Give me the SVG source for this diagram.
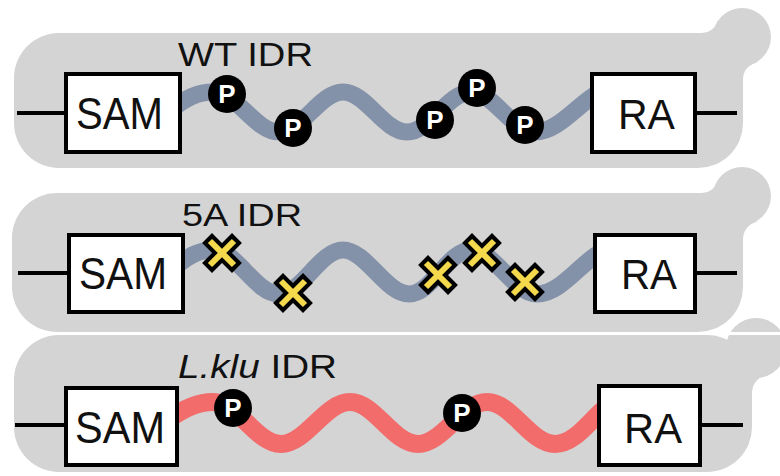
<svg xmlns="http://www.w3.org/2000/svg" width="780" height="476" viewBox="0 0 780 476">
<defs>
<style>
.bg{fill:#d4d4d4}
.box{fill:#ffffff;stroke:#000;stroke-width:4}
.ln{stroke:#000;stroke-width:4;fill:none}
.wv{fill:none;stroke:#8391a9;stroke-width:17;stroke-linecap:butt}
.wr{fill:none;stroke:#f26c6c;stroke-width:18;stroke-linecap:butt}
.lbl{font-family:"Liberation Sans",Arial,sans-serif;fill:#111}
.pc{fill:#000}
.pt{font-family:"Liberation Sans",Arial,sans-serif;font-weight:bold;font-size:26px;fill:#fff;text-anchor:middle}
.xo{stroke:#000;stroke-width:14;stroke-linecap:square;fill:none}
.xi{stroke:#f5d94c;stroke-width:6;stroke-linecap:butt;fill:none}
</style>
<g id="pmark"><circle class="pc" r="19"/><text class="pt" y="9">P</text></g>
<g id="xmark"><path class="xo" d="M-10,-10L10,10M10,-10L-10,10"/><path class="xi" d="M-12,-12L12,12M12,-12L-12,12"/></g>
</defs>
<rect width="780" height="476" fill="#fff"/>
<g id="panels">
<g id="panel1"><rect class="bg" x="14" y="33" width="729" height="135" rx="45"/><circle class="bg" cx="742" cy="37" r="29"/><path class="bg" d="M700,33 Q714,33 718,20 L730,50 L700,50Z"/><path class="bg" d="M743,80 Q743,66 758,62 L730,55Z"/></g>
<g id="panel2"><rect class="bg" x="12" y="193" width="731" height="139" rx="45"/><circle class="bg" cx="742" cy="196" r="29"/><path class="bg" d="M700,193 Q714,193 718,180 L730,210 L700,210Z"/><path class="bg" d="M743,240 Q743,226 758,221 L730,215Z"/></g>
<g id="panel3"><rect class="bg" x="14" y="335" width="738" height="137" rx="45"/><circle class="bg" cx="756" cy="348" r="30"/><path class="bg" d="M752,392 Q752,380 770,372 L740,360Z"/></g>
<rect x="0" y="332" width="780" height="3" fill="#fff"/>
</g>
<g id="connectors">
<path class="ln" d="M17,113H66M694,113H737"/>
<path class="ln" d="M18,273H69M694,273H737"/>
<path class="ln" d="M15,425H66M699,425H743"/>
<path class="wv" d="M172,109 C186,98 198,92 213,92 C237,92 255,132 279,132 C302,132 320,92 343,92 C366,92 384,132 407,132 C430,132 448,92 471,92 C494,92 512,132 535,132 C558,132 578,104 598,93"/>
<path class="wv" d="M172,270 C186,257 198,250 213,250 C237,250 255,294 279,294 C302,294 320,250 343,250 C366,250 386,294 409,294 C432,294 448,250 471,250 C494,250 514,294 537,294 C560,294 580,264 598,254"/>
<path class="wr" d="M168,420 C184,408 198,402 213,402 C238,402 256,444 281,444 C306,444 325,402 350,402 C375,402 393,444 418,444 C443,444 462,402 487,402 C512,402 530,444 555,444 C575,444 590,420 605,408"/>
</g>
<g id="wt">
<rect id="sam1" class="box" x="66" y="74" width="114" height="78"/>
<text class="lbl" x="76" y="129" font-size="44" textLength="87" lengthAdjust="spacingAndGlyphs">SAM</text>
<rect id="ra1" class="box" x="592" y="74" width="103" height="78"/>
<text class="lbl" x="618" y="129" font-size="42" textLength="57" lengthAdjust="spacingAndGlyphs">RA</text>
<text class="lbl" x="178" y="66" font-size="33" textLength="135" lengthAdjust="spacingAndGlyphs">WT IDR</text>
<use href="#pmark" x="227" y="94"/>
<use href="#pmark" x="293" y="128"/>
<use href="#pmark" x="435" y="120"/>
<use href="#pmark" x="477" y="88"/>
<use href="#pmark" x="525" y="125"/>
</g>
<g id="fiveA">
<rect id="sam2" class="box" x="69" y="235" width="114" height="77"/>
<text class="lbl" x="79" y="289" font-size="44" textLength="88" lengthAdjust="spacingAndGlyphs">SAM</text>
<rect id="ra2" class="box" x="595" y="235" width="100" height="77"/>
<text class="lbl" x="621" y="289" font-size="42" textLength="56" lengthAdjust="spacingAndGlyphs">RA</text>
<text class="lbl" x="182" y="226" font-size="31" textLength="120" lengthAdjust="spacingAndGlyphs">5A IDR</text>
<use href="#xmark" x="222" y="253"/>
<use href="#xmark" x="293" y="293"/>
<use href="#xmark" x="438" y="275"/>
<use href="#xmark" x="482" y="253"/>
<use href="#xmark" x="525" y="282"/>
</g>
<g id="lklu">
<rect id="sam3" class="box" x="66" y="388" width="111" height="77"/>
<text class="lbl" x="75" y="443" font-size="44" textLength="90" lengthAdjust="spacingAndGlyphs">SAM</text>
<rect id="ra3" class="box" x="599" y="386" width="101" height="79"/>
<text class="lbl" x="624" y="443" font-size="42" textLength="58" lengthAdjust="spacingAndGlyphs">RA</text>
<text class="lbl" x="178" y="378" font-size="34" textLength="159" lengthAdjust="spacingAndGlyphs"><tspan font-style="italic">L.klu</tspan> IDR</text>
<use href="#pmark" x="233" y="408"/>
<use href="#pmark" x="462" y="413"/>
</g>
</svg>
